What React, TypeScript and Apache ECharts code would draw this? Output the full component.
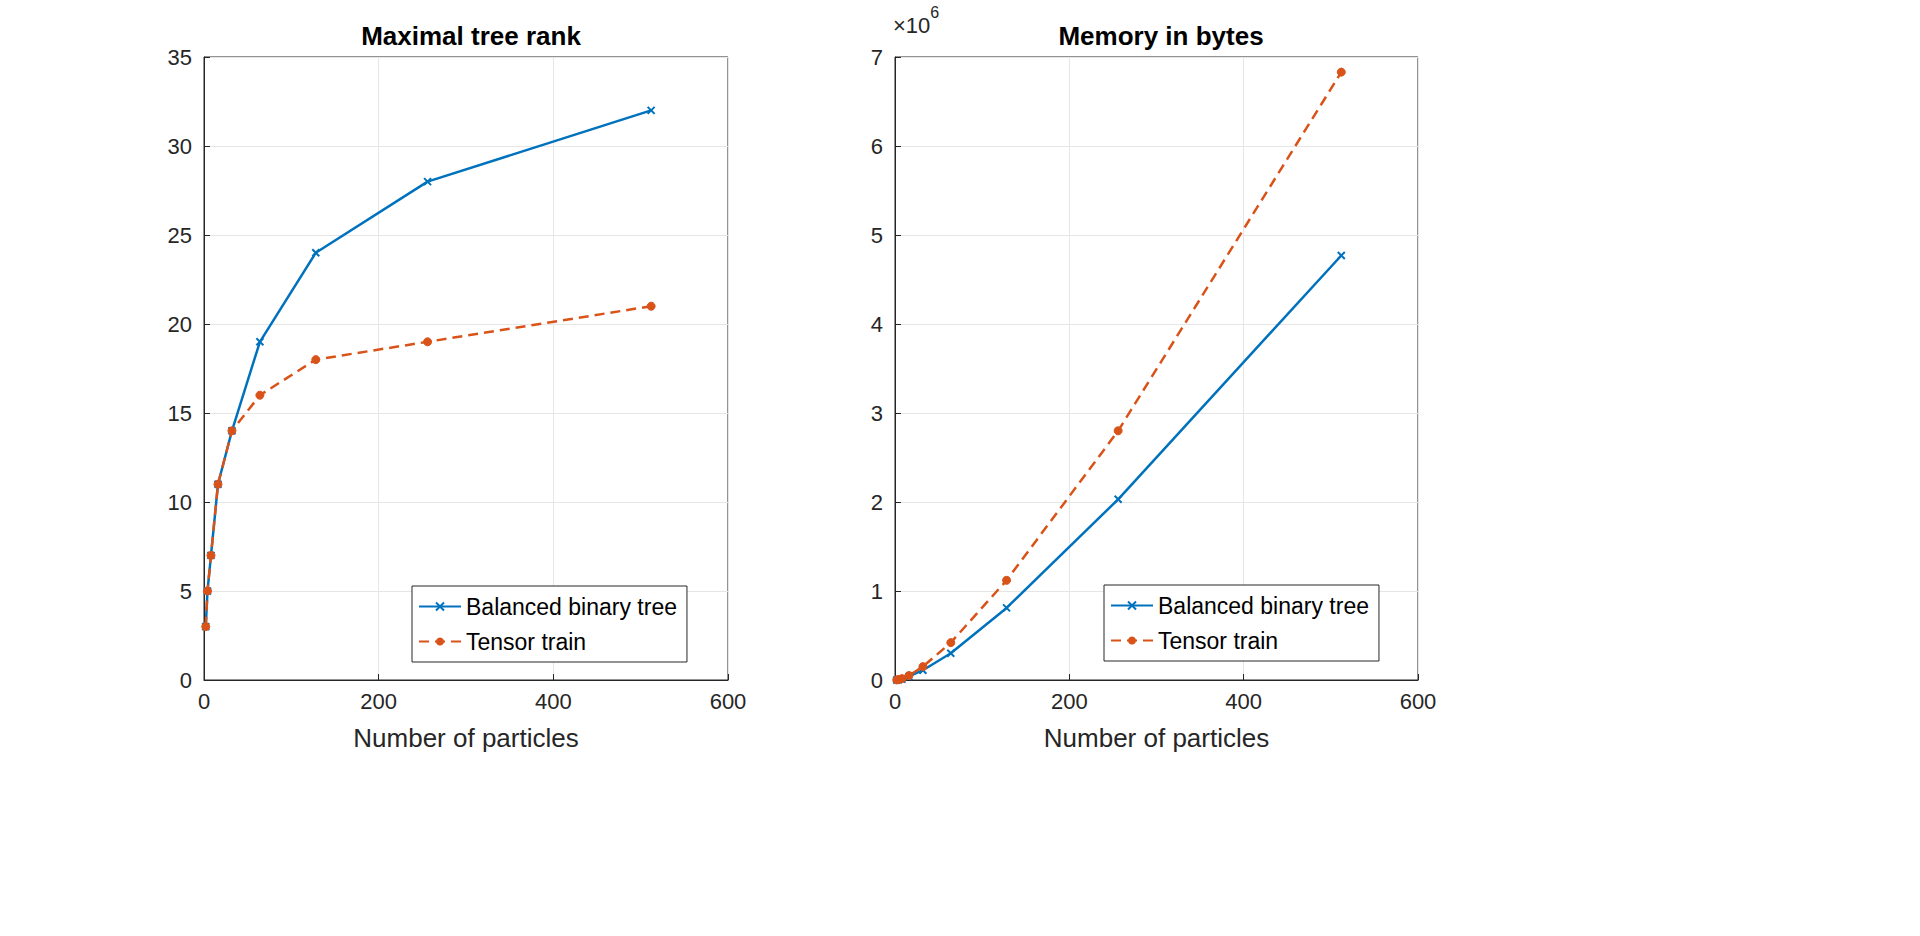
import { useEffect, useRef } from "react"
import * as echarts from "echarts"

const particles = [2, 4, 8, 16, 32, 64, 128, 256, 512]
const rankBinary = [3, 5, 7, 11, 14, 19, 24, 28, 32]
const rankTrain = [3, 5, 7, 11, 14, 16, 18, 19, 21]
const memBinary = [600, 3000, 10000, 40000, 110000, 300000, 810000, 2030000, 4770000]
const memTrain = [600, 5000, 15000, 50000, 150000, 420000, 1120000, 2800000, 6830000]

const BLUE = "#0072bd"
const ORANGE = "#d95319"
const FONT = "Liberation Sans, Arial, sans-serif"
const CROSS = "path://M0,0L10,10M10,0L0,10"

export default function App() {
  const chartRef = useRef<HTMLDivElement | null>(null)

  useEffect(() => {
    if (!chartRef.current) return
    const chart = echarts.init(chartRef.current, undefined, { renderer: "svg" })

    const xAxis = (gridIndex: number) => ({
      type: "value",
      gridIndex,
      min: 0,
      max: 600,
      interval: 200,
      name: "Number of particles",
      nameLocation: "middle",
      nameGap: 45,
      nameTextStyle: { fontSize: 26, color: "#262626", fontFamily: FONT },
      axisLine: { show: true, onZero: false, lineStyle: { color: "#262626" } },
      axisTick: { show: true, inside: true, length: 6, lineStyle: { color: "#262626" } },
      axisLabel: { fontSize: 22, color: "#262626", fontFamily: FONT, margin: 10 },
      splitLine: { show: true, lineStyle: { color: "#e6e6e6" } },
    })
    const yAxis = (gridIndex: number, max: number, interval: number, fmt?: (v: number) => string) => ({
      type: "value",
      gridIndex,
      min: 0,
      max,
      interval,
      axisLine: { show: true, lineStyle: { color: "#262626" } },
      axisTick: { show: true, inside: true, length: 6, lineStyle: { color: "#262626" } },
      axisLabel: { fontSize: 22, color: "#262626", fontFamily: FONT, margin: 12, formatter: fmt },
      splitLine: { show: true, lineStyle: { color: "#e6e6e6" } },
    })
    const pairs = (ys: number[]) => particles.map((x, i) => [x, ys[i]])
    const binSeries = (idx: number, ys: number[]) => ({
      name: "Balanced binary tree",
      type: "line",
      xAxisIndex: idx,
      yAxisIndex: idx,
      data: pairs(ys),
      symbol: CROSS,
      symbolSize: 7,
      lineStyle: { color: BLUE, width: 2.5 },
      itemStyle: { color: BLUE, borderColor: BLUE, borderWidth: 2 },
    })
    const trainSeries = (idx: number, ys: number[]) => ({
      name: "Tensor train",
      type: "line",
      xAxisIndex: idx,
      yAxisIndex: idx,
      data: pairs(ys),
      symbol: "circle",
      symbolSize: 8,
      lineStyle: { color: ORANGE, width: 2.5, type: [10, 6] },
      itemStyle: { color: ORANGE, borderColor: ORANGE },
    })
    const legend = (left: number, top: number) => ({
      left,
      top,
      orient: "vertical",
      backgroundColor: "#fff",
      borderColor: "#262626",
      borderWidth: 1,
      borderRadius: 0,
      padding: [9, 10, 9, 6],
      itemGap: 12,
      itemWidth: 42,
      itemHeight: 10,
      textStyle: { fontSize: 23, color: "#000", fontFamily: FONT },
      data: ["Balanced binary tree", "Tensor train"],
    })

    chart.setOption({
      animation: false,
      backgroundColor: "#fff",
      title: [
        { text: "Maximal tree rank", left: 466, top: 18, textAlign: "center", textStyle: { fontSize: 26, fontWeight: "bold", color: "#000", fontFamily: FONT } },
        { text: "Memory in bytes", left: 1156, top: 18, textAlign: "center", textStyle: { fontSize: 26, fontWeight: "bold", color: "#000", fontFamily: FONT } },
      ],
      legend: [legend(412, 586), legend(1104, 585)],
      grid: [
        { left: 204, top: 57, width: 524, height: 623, show: true, borderColor: "#262626", borderWidth: 1, backgroundColor: "transparent" },
        { left: 895, top: 57, width: 523, height: 623, show: true, borderColor: "#262626", borderWidth: 1, backgroundColor: "transparent" },
      ],
      xAxis: [xAxis(0), xAxis(1)],
      yAxis: [
        yAxis(0, 35, 5),
        yAxis(1, 7000000, 1000000, (v: number) => String(v / 1000000)),
      ],
      graphic: [
        {
          type: "text",
          left: 893,
          top: 4,
          style: {
            text: "{a|×10}{b|6}",
            rich: {
              a: { fontSize: 22, fill: "#262626", fontFamily: FONT, padding: [10, 0, 0, 0] },
              b: { fontSize: 16, fill: "#262626", fontFamily: FONT, verticalAlign: "top" },
            },
          },
        },
      ],
      series: [
        binSeries(0, rankBinary),
        trainSeries(0, rankTrain),
        binSeries(1, memBinary),
        trainSeries(1, memTrain),
      ],
    })

    return () => chart.dispose()
  }, [])

  return <div ref={chartRef} style={{ position: "fixed", left: 0, top: 0, width: 1920, height: 936 }} />
}
